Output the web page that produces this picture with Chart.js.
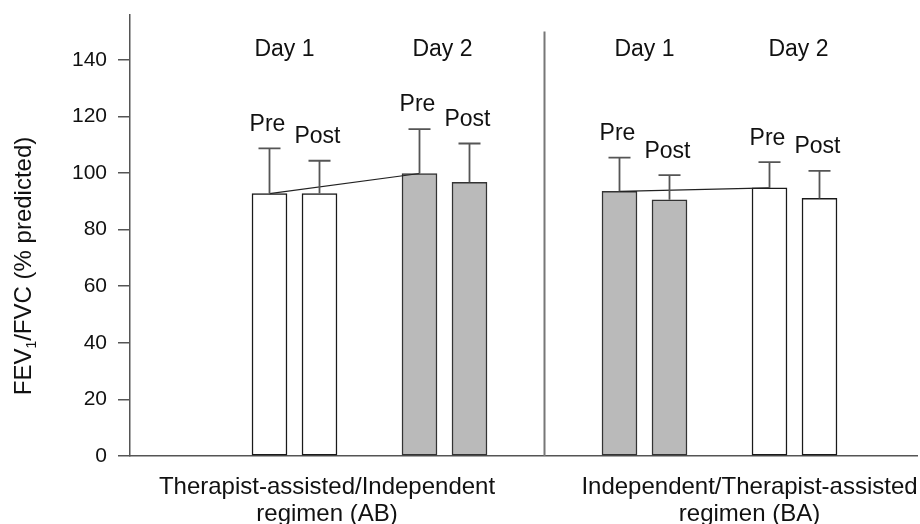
<!DOCTYPE html>
<html>
<head>
<meta charset="utf-8">
<script src="https://cdn.jsdelivr.net/npm/chart.js@4.4.1/dist/chart.umd.min.js"></script>
<style>
  html, body { margin: 0; padding: 0; background: #fff; }
</style>
</head>
<body>
<canvas id="fevChart" width="920" height="524"></canvas>
<script>
// slot of each bar along the x axis (0 = first AB bar)
const barSlots = [0, 1, 3, 4, 7, 8, 10, 11];
const barPhase = ["Pre", "Post", "Pre", "Post", "Pre", "Post", "Pre", "Post"];
const dayLabels = ["Day 1", "Day 2", "Day 1", "Day 2"];
const meanValues = [92.7, 92.7, 99.8, 96.7, 93.5, 90.5, 94.7, 91.0];
const errTop = [108.7, 104.3, 115.5, 110.4, 105.4, 99.2, 103.8, 100.7];
// true = therapist-assisted session (white bar), false = independent (grey)
const assisted = [true, true, false, false, false, false, true, true];
const regimenLabels = [["Therapist-assisted/Independent", "regimen (AB)"], ["Independent/Therapist-assisted", "regimen (BA)"]];
const yTicks = [0, 20, 40, 60, 80, 100, 120, 140];
const connectors = [[0, 2], [4, 6]];
const dividerSlot = 5.5;

const FONT = "'Liberation Sans', Arial, sans-serif";

Chart.defaults.font.family = FONT;
Chart.defaults.color = "#111";

const barData = barSlots.map((s, i) => ({ x: s, y: meanValues[i] }));

const lineSets = connectors.map(([a, b]) => ({
  type: "line",
  data: [{ x: barSlots[a], y: meanValues[a] }, { x: barSlots[b], y: meanValues[b] }],
  borderColor: "#222",
  borderWidth: 1.2,
  pointRadius: 0,
  order: 0
}));

const dividerSet = {
  type: "line",
  data: [{ x: dividerSlot, y: 0 }, { x: dividerSlot, y: 150 }],
  borderColor: "#777",
  borderWidth: 2,
  pointRadius: 0,
  order: 2
};

// error bars, Pre/Post + Day captions, regimen labels, y title
const annotate = {
  id: "annotate",
  afterDatasetsDraw(chart) {
    const ctx = chart.ctx;
    const xs = chart.scales.x, ys = chart.scales.y;
    ctx.save();
    ctx.strokeStyle = "#555";
    ctx.lineWidth = 1.8;
    ctx.fillStyle = "#111";
    ctx.textAlign = "center";
    ctx.textBaseline = "middle";
    ctx.font = "23px " + FONT;
    barSlots.forEach((s, i) => {
      const x = xs.getPixelForValue(s);
      const y0 = ys.getPixelForValue(meanValues[i]);
      const y1 = ys.getPixelForValue(errTop[i]);
      ctx.beginPath();
      ctx.moveTo(x, y0);
      ctx.lineTo(x, y1);
      ctx.moveTo(x - 11, y1);
      ctx.lineTo(x + 11, y1);
      ctx.stroke();
      ctx.fillText(barPhase[i], x - 2, y1 - 24);
    });
    const dayShift = [-10, -2, 0, 4];
    dayLabels.forEach((d, k) => {
      const x = (xs.getPixelForValue(barSlots[2 * k]) + xs.getPixelForValue(barSlots[2 * k + 1])) / 2;
      ctx.fillText(d, x + dayShift[k], ys.getPixelForValue(143.5));
    });
    ctx.font = "24px " + FONT;
    const centers = [1.15, 9.6];
    regimenLabels.forEach((lines, k) => {
      const x = xs.getPixelForValue(centers[k]);
      ctx.fillText(lines[0], x, 487);
      ctx.fillText(lines[1], x, 514);
    });
    // rotated y title with subscript
    ctx.translate(31, 266);
    ctx.rotate(-Math.PI / 2);
    ctx.textBaseline = "alphabetic";
    ctx.textAlign = "left";
    const big = "24px " + FONT, small = "14px " + FONT;
    ctx.font = big;
    const a = "FEV", c = "/FVC (% predicted)";
    const wa = ctx.measureText(a).width, wc = ctx.measureText(c).width;
    ctx.font = small;
    const wb = ctx.measureText("1").width;
    let x0 = -(wa + wb + wc) / 2;
    ctx.font = big;
    ctx.fillText(a, x0, 0);
    ctx.font = small;
    ctx.fillText("1", x0 + wa, 5);
    ctx.font = big;
    ctx.fillText(c, x0 + wa + wb, 0);
    ctx.restore();
  }
};

new Chart(document.getElementById("fevChart"), {
  type: "bar",
  data: {
    datasets: [
      {
        data: barData,
        backgroundColor: assisted.map(t => t ? "#ffffff" : "#bababa"),
        borderColor: assisted.map(t => t ? "#1a1a1a" : "#333333"),
        borderWidth: 1.5,
        borderSkipped: false,
        barThickness: 35,
        order: 1
      },
      ...lineSets,
      dividerSet
    ]
  },
  options: {
    responsive: false,
    animation: false,
    layout: { padding: { left: 0, top: 15, right: 3, bottom: 0 } },
    plugins: { legend: { display: false }, tooltip: { enabled: false } },
    scales: {
      x: {
        type: "linear",
        offset: false,
        min: -2.79,
        max: 12.95,
        ticks: { display: false },
        grid: { display: false, offset: false },
        border: { display: true, color: "#555", width: 1.5 },
        afterFit: s => { s.height = 68; s.paddingLeft = 0; s.paddingRight = 0; }
      },
      y: {
        min: 0,
        max: 155.8,
        afterBuildTicks: s => { s.ticks = yTicks.map(v => ({ value: v })); },
        ticks: { padding: 11, font: { size: 21 }, color: "#111" },
        grid: { drawOnChartArea: false, drawTicks: true, tickLength: 12, color: "#555", lineWidth: 1.5 },
        border: { color: "#555", width: 1.5 },
        afterFit: s => { s.width = 130; s.paddingTop = 0; s.paddingBottom = 0; }
      }
    }
  },
  plugins: [annotate]
});
</script>
</body>
</html>
